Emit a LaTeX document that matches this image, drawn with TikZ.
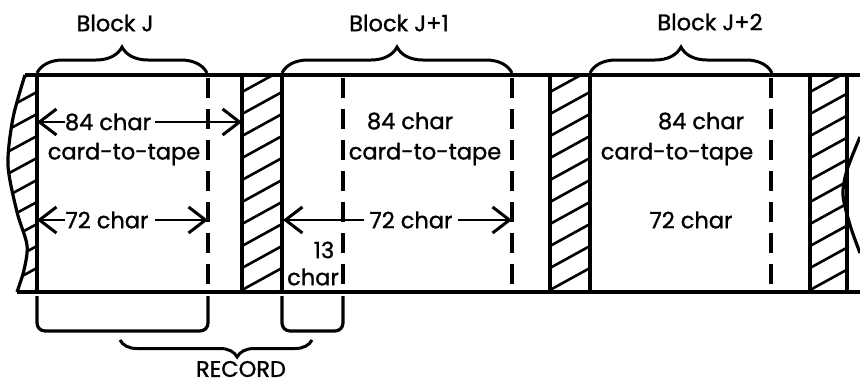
\documentclass[tikz,border=0pt]{standalone}
\usepackage{fontspec}
\setmainfont{Poppins}[FakeBold=1.2]
\usetikzlibrary{arrows.meta, decorations.pathreplacing, calc}

\begin{document}
\begin{tikzpicture}[
    x=1pt, y=-1pt,
    tape/.style={line width=3.2pt, black},
    edge/.style={line width=3.2pt},
    cut/.style={line width=3.2pt, dash pattern=on 20pt off 11pt},
    hatchline/.style={line width=2.6pt},
    dimarrow/.style={-{Straight Barb[length=17pt, width=26pt, line width=3pt]}, line width=2.2pt},
    brc/.style={decorate, decoration={brace, amplitude=26pt}, line width=3pt},
    lbl/.style={inner sep=0pt},
    every node/.style={font=\fontsize{22.5}{25}\selectfont}
]
\useasboundingbox (0,0) rectangle (860,386);

% Tape edges
\draw[tape] (25,75) -- (860,75);
\draw[tape] (17,292) -- (860,292);

% Torn end (left)
\begin{scope}
  \clip plot[smooth] coordinates {(25,75) (13,118) (8,165) (17,212) (27,245) (24,270) (17,292)} -- (37,292) -- (37,75) -- cycle;
  \foreach \yy in {70,92,...,320}
    \draw[hatchline] (0,\yy+20) -- (37,\yy);
\end{scope}
\draw[edge] plot[smooth] coordinates {(25,75) (13,118) (8,165) (17,212) (27,245) (24,270) (17,292)};

% Torn end (right)
\draw[edge] plot[smooth] coordinates {(860,137) (847,170) (843,195) (850,225) (860,253)};

% Inter-block gaps
\foreach \xa/\xb in {242/282, 550/590, 810/847} {
  \begin{scope}
    \clip (\xa,75) rectangle (\xb,292);
    \foreach \yy in {70,92,...,330}
      \draw[hatchline] (\xa,\yy) -- (\xb,{\yy-0.55*(\xb-\xa)});
  \end{scope}
  \draw[edge] (\xa,75) -- (\xa,292);
  \draw[edge] (\xb,75) -- (\xb,292);
}
\draw[edge] (37,75) -- (37,292);

% Record boundaries
\draw[cut] (208,78) -- (208,292);
\draw[cut] (343,78) -- (343,292);
\draw[cut] (512,78) -- (512,292);
\draw[cut] (771,78) -- (771,292);

% Block braces
\draw[brc] (37,73) -- (207,73);
\draw[brc] (282,73) -- (512,73);
\draw[brc] (590,73) -- (772,73);
\node[lbl] (blkJ) at (115,23) {Block J};
\node[lbl] (blkJa) at (399,23) {Block J+1};
\node[lbl] (blkJb) at (710,22) {Block J+2};

% Block J
\node[lbl] (j84) at (108,122) {84 char};
\node[lbl] (jctt) at (124,154) {card-to-tape};
\node[lbl] (j72) at (107,220) {72 char};
\coordinate (jL) at (37,122);
\coordinate (jG) at (242,122);
\coordinate (jL2) at (37,220);
\coordinate (jR2) at (208,220);
\draw[dimarrow] (j84.west) -- (jL);
\draw[dimarrow, shorten <=4pt] (j84.east) -- (jG);
\draw[dimarrow] (j72.west) -- (jL2);
\draw[dimarrow, shorten <=6pt] (j72.east) -- (jR2);

% Block J+1
\node[lbl] (ja84) at (410,121) {84 char};
\node[lbl] (jactt) at (425,154) {card-to-tape};
\node[lbl] (ja72) at (411,220) {72 char};
\node[lbl] (ja13) at (324,250) {13};
\node[lbl] (jach) at (313,277) {char};
\coordinate (jaL) at (283,220);
\coordinate (jaR) at (512,220);
\draw[dimarrow, shorten <=5pt] (ja72.west) -- (jaL);
\draw[dimarrow, shorten <=5pt] (ja72.east) -- (jaR);

% Block J+2
\node[lbl] (jb84) at (701,121) {84 char};
\node[lbl] (jbctt) at (677,154) {card-to-tape};
\node[lbl] (jb72) at (691,220) {72 char};

% Record grouping below the tape
\draw[edge, rounded corners=8pt] (37,296) -- (37,331) -- (208,331) -- (208,296);
\draw[edge, rounded corners=8pt] (282,296) -- (282,331) -- (343,331) -- (343,296);
\draw[brc, decoration={brace, mirror, amplitude=17pt, aspect=0.61}] (120,340) -- (312,340);
\node[lbl] (rec) at (241,369) {RECORD};

\end{tikzpicture}
\end{document}
